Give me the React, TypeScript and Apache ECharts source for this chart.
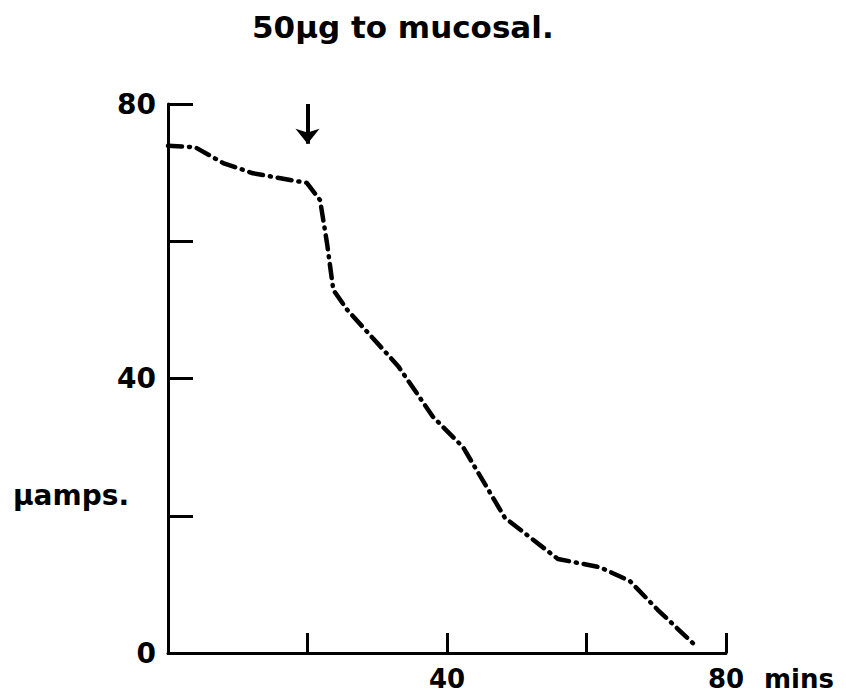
import React, { useEffect, useRef } from "react";
import * as echarts from "echarts";

const timeMins = [0, 3.9, 7.9, 12.2, 19.9, 21.8, 22.8, 23.7, 25.7, 33.0, 38.0, 42.3, 48.3, 55.9, 61.9, 66.2, 70.2, 75.8];
const microAmps = [73.9, 73.7, 71.4, 69.9, 68.5, 66.0, 59.7, 52.9, 50.0, 41.8, 34.4, 30.0, 19.7, 13.7, 12.5, 10.5, 6.3, 0.9];
const xTickLabels = [40, 80];
const yTickLabels = [0, 40, 80];
const arrowAt = 20;
const titleText = "50µg to mucosal.";
const yName = "µamps.";
const xName = "mins";

const FONT = "DejaVu Sans";

export default function App() {
  const ref = useRef<HTMLDivElement>(null);
  useEffect(() => {
    if (!ref.current) return;
    const chart = echarts.init(ref.current, null, { renderer: "svg" });
    const data = timeMins.map((t, i) => [t, microAmps[i]]);
    chart.setOption({
      animation: false,
      backgroundColor: "#ffffff",
      grid: { left: 168, right: 120, top: 104, bottom: 41, containLabel: false },
      graphic: [
        {
          type: "text",
          left: 252,
          top: 11,
          style: { text: titleText, font: `bold 31px "${FONT}"`, fill: "#000" },
        },
        {
          type: "text",
          left: 13,
          top: 481,
          style: { text: yName, font: `bold 28px "${FONT}"`, fill: "#000" },
        },
        {
          type: "text",
          left: 764,
          top: 666,
          style: { text: xName, font: `bold 26px "${FONT}"`, fill: "#000" },
        },
      ],
      xAxis: {
        type: "value",
        min: 0,
        max: 80,
        interval: 20,
        axisLine: { show: true, lineStyle: { color: "#000", width: 3 } },
        axisTick: { show: true, inside: true, length: 20, lineStyle: { color: "#000", width: 3 } },
        splitLine: { show: false },
        axisLabel: {
          margin: 13,
          color: "#000",
          fontFamily: FONT,
          fontWeight: "bold",
          fontSize: 26,
          lineHeight: 26,
          formatter: (v: number) => (xTickLabels.includes(v) ? String(v) : ""),
        },
      },
      yAxis: {
        type: "value",
        min: 0,
        max: 80,
        interval: 20,
        axisLine: { show: true, lineStyle: { color: "#000", width: 3 } },
        axisTick: { show: true, inside: true, length: 25, lineStyle: { color: "#000", width: 3 } },
        splitLine: { show: false },
        axisLabel: {
          margin: 12,
          color: "#000",
          fontFamily: FONT,
          fontWeight: "bold",
          fontSize: 28,
          padding: [8, 0, 0, 0],
          formatter: (v: number) => (yTickLabels.includes(v) ? String(v) : ""),
        },
      },
      series: [
        {
          type: "line",
          data,
          showSymbol: false,
          lineStyle: { color: "#000", width: 4.5, type: [14, 7, 1, 7], cap: "round", join: "round" },
          markLine: {
            silent: true,
            symbol: ["none", "arrow"],
            symbolSize: [18, 15],
            label: { show: false },
            lineStyle: { color: "#000", width: 4, type: "solid" },
            data: [[{ coord: [arrowAt, 80] }, { coord: [arrowAt, 74.2] }]],
          },
        },
      ],
    });
    return () => chart.dispose();
  }, []);
  return <div ref={ref} style={{ position: "fixed", left: 0, top: 0, width: 846, height: 694 }} />;
}
